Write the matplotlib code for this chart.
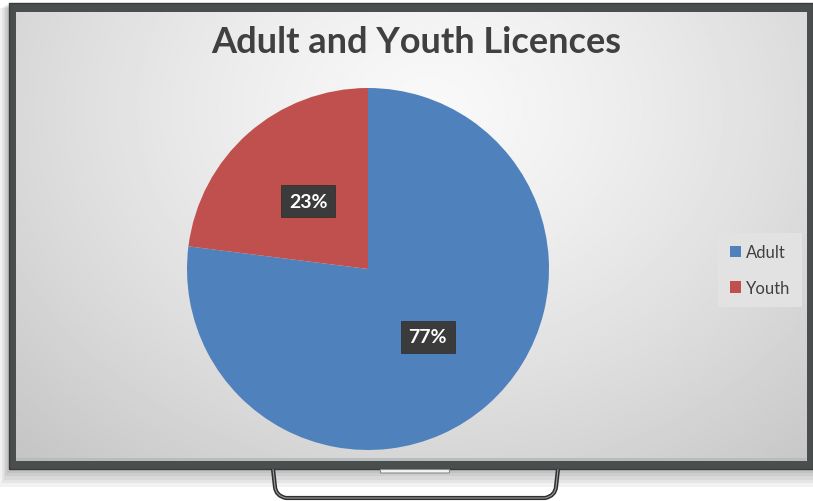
import matplotlib
matplotlib.use("Agg")
import matplotlib.pyplot as plt
from matplotlib.patches import Rectangle, FancyBboxPatch
from matplotlib.path import Path
from matplotlib.patches import PathPatch
import numpy as np

# chart data
title = "Adult and Youth Licences"
categories = ["Adult", "Youth"]
shares = [77, 23]
slice_colors = ["#4F81BD", "#C0504D"]

W, H = 813, 502
fig = plt.figure(figsize=(W / 100, H / 100), dpi=100)
fig.patch.set_facecolor("white")

# background layer in pixel coordinates (tv frame, screen, stand)
bg = fig.add_axes([0, 0, 1, 1])
bg.set_xlim(0, W)
bg.set_ylim(H, 0)
bg.axis("off")

# soft shadow around the set
for i in range(5):
    g = 3 + i * 3
    bg.add_patch(Rectangle((9 - g * 0.6, 4 + g * 0.3), 804 + g * 1.2, 466 + g * 0.9,
                           facecolor="black", edgecolor="none", alpha=0.05, zorder=1))

# frame
bg.add_patch(Rectangle((9, 4), 804, 466, facecolor="#4b4e4e", edgecolor="#3a3c3c",
                       lw=1, zorder=2))

# screen with radial gradient
sx0, sx1, sy0, sy1 = 16, 806, 13, 462
xs = np.linspace(sx0, sx1, 400)
ys = np.linspace(sy0, sy1, 240)
X, Y = np.meshgrid(xs, ys)
r = np.sqrt(((X - 430) / 520) ** 2 + ((Y - 110) / 420) ** 2)
shade = np.clip(0.975 - 0.17 * r ** 1.3, 0, 1)
bg.imshow(shade, cmap="gray", vmin=0, vmax=1, extent=(sx0, sx1, sy1, sy0),
          aspect="auto", zorder=3, interpolation="bilinear")
bg.add_patch(Rectangle((sx0, sy1 - 3), sx1 - sx0, 3, facecolor="#b9bcbc",
                       edgecolor="none", zorder=4))
bg.set_xlim(0, W)
bg.set_ylim(H, 0)

# stand
leg = Path([(273, 470), (275, 488), (276, 497), (286, 499), (545, 499),
            (555, 497), (556, 488), (558, 470)],
           [Path.MOVETO, Path.LINETO, Path.CURVE3, Path.CURVE3, Path.LINETO,
            Path.CURVE3, Path.CURVE3, Path.LINETO])
bg.add_patch(PathPatch(leg, facecolor="none", edgecolor="#2e2f30", lw=3, zorder=2))
bg.add_patch(PathPatch(leg, facecolor="none", edgecolor="#9a9c9e", lw=0.8, zorder=2))
bg.add_patch(FancyBboxPatch((381, 471), 68, 2.5, boxstyle="round,pad=0.5",
                            facecolor="#f4f4f4", edgecolor="#8a8a8a", lw=0.8, zorder=2))

fig.text(416 / W, 1 - 53 / H, title, ha="center", va="baseline", fontsize=26,
         fontweight="bold", color="#404040", family="Lato")

# pie
cx, cy, rad = 368, 270, 181
ax = fig.add_axes([(cx - rad) / W, 1 - (cy + rad) / H, 2 * rad / W, 2 * rad / H])
ax.set_zorder(5)
wedges, texts, autotexts = ax.pie(
    shares, colors=slice_colors, startangle=90, counterclock=False,
    autopct="%1.0f%%", pctdistance=0.5, radius=1,
    textprops=dict(color="white", fontsize=14, fontweight="bold", family="Lato"))
for t in autotexts:
    t.set_bbox(dict(boxstyle="square,pad=0.4", facecolor="#3b3b3b",
                    edgecolor="#2a2a2a", lw=0.5))
ax.set_xlim(-1, 1)
ax.set_ylim(-1, 1)
ax.set_aspect("auto")

leg_obj = fig.legend(wedges, categories, loc="center left",
                     bbox_to_anchor=(718 / W, 1 - 271 / H), frameon=True,
                     labelspacing=1.15, handlelength=0.7, borderaxespad=0,
                     handleheight=0.7, handletextpad=0.3, borderpad=0.7,
                     fancybox=False, prop=dict(family="Lato", size=12))
leg_obj.get_frame().set_facecolor("#e2e2e2")
leg_obj.get_frame().set_edgecolor("none")
leg_obj.get_frame().set_alpha(1)
for t in leg_obj.get_texts():
    t.set_color("#404040")
leg_obj.set_zorder(6)

fig.savefig("out.png", dpi=100)
